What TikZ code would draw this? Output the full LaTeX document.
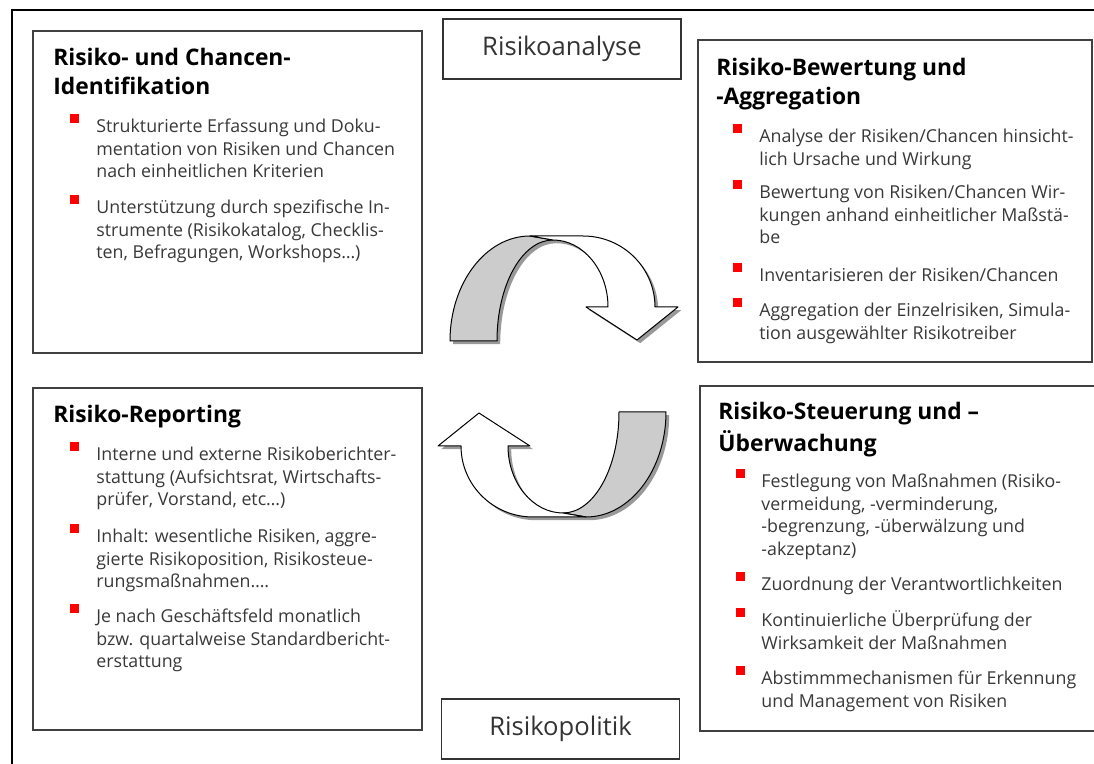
\documentclass[tikz,border=0pt]{standalone}
\usepackage{fontspec}
\setmainfont{Open Sans}
\usepackage{tikz}
\usetikzlibrary{positioning}

\tikzset{
  box/.style={draw=black!75, line width=0.8pt, inner sep=0},
  phase/.style={draw=black!80, line width=0.7pt, inner sep=0, text=black!80,
    minimum width=119pt, minimum height=30pt, font=\fontsize{12.8}{15}\selectfont},
  boxtitle/.style={anchor=north west, inner sep=0, align=left,
    font=\bfseries\fontsize{11.4}{14.2}\selectfont},
  itemtext/.style={anchor=north west, inner sep=0, align=left, text=black!78,
    font=\fontsize{8.9}{11.4}\selectfont},
  bullet/.style={fill=red, minimum size=4.5pt, inner sep=0},
  ribbon/.style={draw=black, line width=0.5pt, line join=round},
  ribbonshadow/.style={fill=black!40, draw=none}
}

\begin{document}
\begin{tikzpicture}[x=0.5pt, y=-0.5pt]
  \useasboundingbox (0,0) rectangle (1094,764);
  \draw[line width=0.8pt] (12,764) -- (12,10) -- (1094,10);

  % phase labels
  \node[phase] (analyse) at (562,49) {Risikoanalyse};
  \node[phase] (politik) at (560.5,729) {Risikopolitik};

  % the four boxes
  \node[box, minimum width=194.5pt, minimum height=161pt] (ident) at (227.5,192) {};
  \node[box, minimum width=197pt, minimum height=161pt] (bewert) at (895,201) {};
  \node[box, minimum width=194.5pt, minimum height=171pt] (report) at (227.5,559) {};
  \node[box, minimum width=198pt, minimum height=172.5pt] (steuer) at (898,558.5) {};

  % cycle arrows
  \foreach \a in {0,180} {
    \begin{scope}[xshift=1.6pt, yshift=-1.6pt, rotate around={\a:(558,376.5)}]
      \fill[ribbonshadow] (450,341) .. controls (450,283) and (486,236) .. (530,236)
        -- (583,236) .. controls (623,236) and (655,268) .. (655,307)
        -- (678,307) -- (637,340) -- (586,307) -- (608,307)
        .. controls (608,270) and (583,240) .. (553,240)
        .. controls (522,240) and (497,285) .. (497,341) -- cycle;
    \end{scope}
    \begin{scope}[rotate around={\a:(558,376.5)}]
      \filldraw[ribbon, fill=black!20] (450,341) .. controls (450,283) and (486,236) .. (530,236)
        -- (553,240) .. controls (522,240) and (497,285) .. (497,341) -- cycle;
      \filldraw[ribbon, fill=white] (530,236) -- (583,236)
        .. controls (623,236) and (655,268) .. (655,307)
        -- (678,307) -- (637,340) -- (586,307) -- (608,307)
        .. controls (608,270) and (583,240) .. (553,240) -- cycle;
    \end{scope}
  }

  % Identifikation
  \node[boxtitle] (ident-t) at (53,45.5) {\strut Risiko- und Chancen-\\Identifikation};
  \foreach \n/\y/\t in {1/132/{Strukturierte Erfassung und Doku-\\mentation von Risiken und Chancen\\nach einheitlichen Kriterien},
      2/213/{Unterstützung durch spezifische In-\\strumente (Risikokatalog, Checklis-\\ten, Befragungen, Workshops…)}} {
    \node[itemtext] (ident-\n) at (96,\y-16) {\strut\t};
    \node[bullet] (ident-b\n) at (74.5,\y-13.5) {};
  }

  % Bewertung
  \node[boxtitle] (bewert-t) at (716,55.5) {\strut Risiko-Bewertung und\\-Aggregation};
  \foreach \n/\y/\t in {1/142/{Analyse der Risiken/Chancen hinsicht-\\lich Ursache und Wirkung},
      2/198/{Bewertung von Risiken/Chancen Wir-\\kungen anhand einheitlicher Maßstä-\\be},
      3/281/{Inventarisieren der Risiken/Chancen},
      4/316/{Aggregation der Einzelrisiken, Simula-\\tion ausgewählter Risikotreiber}} {
    \node[itemtext] (bewert-\n) at (759,\y-16) {\strut\t};
    \node[bullet] (bewert-b\n) at (737.5,\y-13.5) {};
  }

  % Reporting
  \node[boxtitle] (report-t) at (53,402.5) {\strut Risiko-Reporting};
  \foreach \n/\y/\t in {1/460/{Interne und externe Risikoberichter-\\stattung (Aufsichtsrat, Wirtschafts-\\prüfer, Vorstand, etc…)},
      2/542/{Inhalt: wesentliche Risiken, aggre-\\gierte Risikoposition, Risikosteue-\\rungsmaßnahmen….},
      3/622/{Je nach Geschäftsfeld monatlich\\bzw. quartalweise Standardbericht-\\erstattung}} {
    \node[itemtext] (report-\n) at (96,\y-16) {\strut\t};
    \node[bullet] (report-b\n) at (74.5,\y-13.5) {};
  }

  % Steuerung
  \node[boxtitle] (steuer-t) at (718,399.5) {\strut Risiko-Steuerung und –\\Überwachung};
  \foreach \n/\y/\t in {1/487/{Festlegung von Maßnahmen (Risiko-\\vermeidung, -verminderung,\\-begrenzung, -überwälzung und\\-akzeptanz)},
      2/590/{Zuordnung der Verantwortlichkeiten},
      3/626/{Kontinuierliche Überprüfung der\\Wirksamkeit der Maßnahmen},
      4/684/{Abstimmmechanismen für Erkennung\\und Management von Risiken}} {
    \node[itemtext] (steuer-\n) at (761,\y-16) {\strut\t};
    \node[bullet] (steuer-b\n) at (740.5,\y-13.5) {};
  }
\end{tikzpicture}
\end{document}
